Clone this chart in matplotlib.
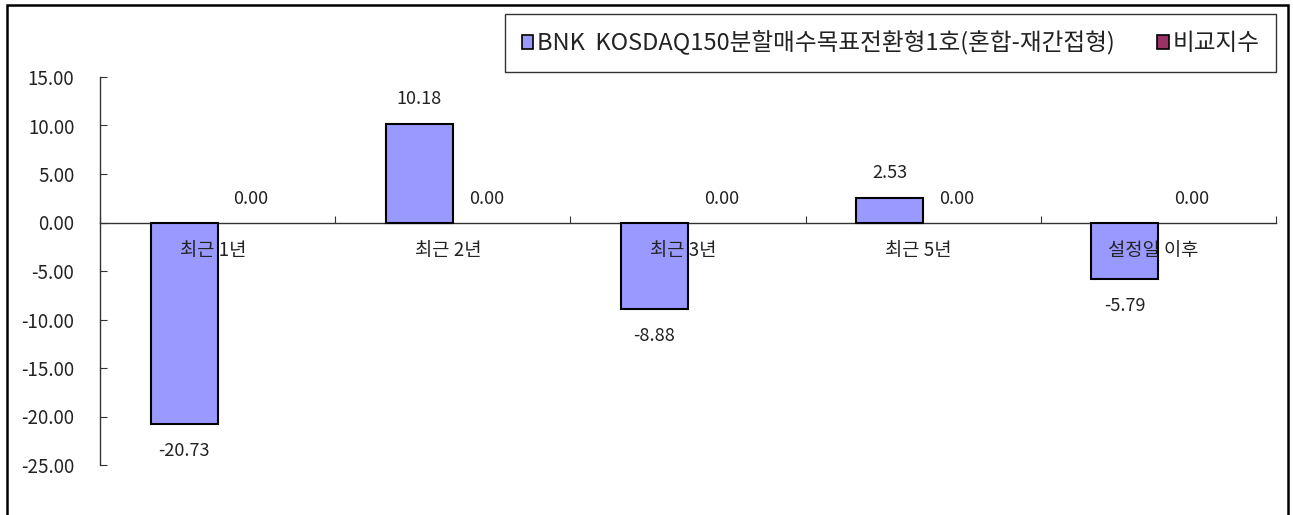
import matplotlib
matplotlib.use('Agg')
import matplotlib.pyplot as plt
import matplotlib.patches as patches
import numpy as np

plt.rcParams['font.family'] = ['Noto Sans CJK KR', 'DejaVu Sans']

# data
categories = ['최근 1년', '최근 2년', '최근 3년', '최근 5년', '설정일 이후']
fund_values = [-20.73, 10.18, -8.88, 2.53, -5.79]
bench_values = [0.00, 0.00, 0.00, 0.00, 0.00]
series_names = ['BNK  KOSDAQ150분할매수목표전환형1호(혼합-재간접형)', '비교지수']
y_ticks = [15, 10, 5, 0, -5, -10, -15, -20, -25]

fund_color = '#9999FF'
bench_color = '#993366'

fig = plt.figure(figsize=(12.93, 5.15), dpi=100)
ax = fig.add_axes([100 / 1293, 1 - 465 / 515, 1176 / 1293, 388 / 515])

x = np.arange(len(categories))
w = 0.285
b1 = ax.bar(x - w / 2, fund_values, w, color=fund_color, edgecolor='black',
            linewidth=1.5, label=series_names[0], zorder=3)
# zero-height bars leave no visible outline
b2 = ax.bar(x + w / 2, bench_values, w, color=bench_color, edgecolor='black',
            linewidth=[1.5 if v != 0 else 0 for v in bench_values],
            label=series_names[1], zorder=3)

# value labels
for xi, v in zip(x - w / 2, fund_values):
    off = 18 if v >= 0 else -20
    ax.annotate('%.2f' % v, (xi, v), xytext=(0, off), textcoords='offset points',
                ha='center', va='center', fontsize=13, color='#222222')
for xi, v in zip(x + w / 2, bench_values):
    ax.annotate('%.2f' % v, (xi, v), xytext=(0, 17), textcoords='offset points',
                ha='center', va='center', fontsize=13, color='#222222')

# category labels sit just under the zero line
for xi, c in zip(x, categories):
    ax.text(xi - 0.02, -2.9, c, ha='center', va='center', fontsize=13.5,
            color='#222222', zorder=4)

ax.set_xlim(-0.5, len(categories) - 0.5)
ax.set_ylim(-25, 15)
ax.set_yticks(y_ticks)
ax.set_yticklabels(['%.2f' % t for t in y_ticks])
ax.set_xticks(np.arange(-0.5, len(categories), 1.0))
ax.set_xticklabels([])

ax.spines['top'].set_visible(False)
ax.spines['right'].set_visible(False)
ax.spines['bottom'].set_position(('data', 0))
ax.spines['bottom'].set_zorder(2)
for s in ['left', 'bottom']:
    ax.spines[s].set_linewidth(1.0)
    ax.spines[s].set_color('#333333')
ax.tick_params(axis='y', direction='in', length=5, pad=18.5, labelsize=13.5,
               labelcolor='#222222', color='#333333')
ax.tick_params(axis='x', direction='in', length=5, color='#333333')

fund_handle = patches.Patch(facecolor=fund_color, edgecolor='black', linewidth=1.2)
bench_handle = patches.Patch(facecolor=bench_color, edgecolor='black', linewidth=1.2)
leg = fig.legend(handles=[fund_handle, bench_handle], labels=series_names,
                 loc='upper right',
                 bbox_to_anchor=(1276 / 1293, 1 - 14 / 515), ncol=2,
                 fontsize=17, frameon=True, fancybox=False, shadow=False,
                 handlelength=0.5, handleheight=0.5, handletextpad=0.15,
                 columnspacing=1.8, borderpad=0.7, borderaxespad=0)
leg.get_frame().set_edgecolor('black')
leg.get_frame().set_linewidth(1.0)
for t in leg.get_texts():
    t.set_color('#222222')

# outer chart frame
frame = patches.Rectangle((7 / 1293, -0.05), (1288 - 7) / 1293, 1.05 - 5 / 515,
                          transform=fig.transFigure, fill=False,
                          edgecolor='black', linewidth=1.8, clip_on=False)
fig.patches.append(frame)

fig.savefig('out.png', dpi=100)
